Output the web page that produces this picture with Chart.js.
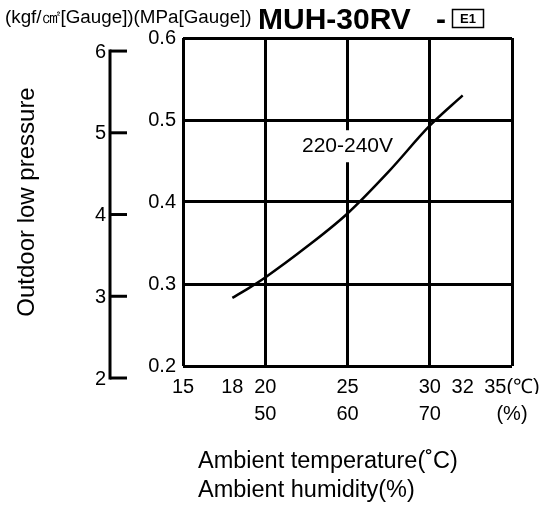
<!DOCTYPE html>
<html><head><meta charset="utf-8">
<script src="https://cdn.jsdelivr.net/npm/chart.js@4/dist/chart.umd.min.js"></script>
<style>html,body{margin:0;padding:0;background:#fff}canvas{display:block}</style>
</head><body>
<canvas id="c" width="544" height="506"></canvas>
<script>
// ---- data ----
const temperatureC = [18, 19, 20, 22.5, 25, 27.5, 30, 32];
const pressureMPa  = [0.283, 0.295, 0.308, 0.345, 0.386, 0.437, 0.493, 0.530];
const seriesLabel = '220-240V';
const seriesLabelAt = [25, 0.468];          // [°C, MPa] where the series label sits

const tempTicks = [15, 18, 20, 25, 30, 32, 35];
const tempTickLabels = ['15', '18', '20', '25', '30', '32', '35(℃)'];
const tempGridValues = [15, 20, 25, 30, 35];
const humidityTicks = [50, 60, 70, 80];
const humidityTickLabels = ['50', '60', '70', '(%)'];
const mpaTicks = [0.2, 0.3, 0.4, 0.5, 0.6];
const kgfTicks = [2, 3, 4, 5, 6];
// kgf/cm² scale as drawn beside the MPa scale
const kgfToMpaSlope = 0.09968;
const kgfToMpaOffset = -0.0140;
const kgfToMpa = k => kgfToMpaOffset + kgfToMpaSlope * k;

const headerUnits = '(kgf/㎠[Gauge])(MPa[Gauge])';
const headerModel = 'MUH-30RV';
const headerSuffix = 'E1';
const yTitle = 'Outdoor low pressure';
const xTitles = ['Ambient temperature(˚C)', 'Ambient humidity(%)'];

const FONT = '"Liberation Sans", Arial, Helvetica, sans-serif';
Chart.defaults.font.family = FONT;
Chart.defaults.color = '#000';

function labelGeom(chart) {
  const {ctx, scales: {x, y}} = chart;
  ctx.save();
  ctx.font = `21px ${FONT}`;
  const w = ctx.measureText(seriesLabel).width;
  ctx.restore();
  return {cx: x.getPixelForValue(seriesLabelAt[0]), cy: y.getPixelForValue(seriesLabelAt[1]), w};
}

const extras = {
  id: 'extras',
  beforeDatasetsDraw(chart) {
    const {ctx} = chart;
    const {cx, cy, w} = labelGeom(chart);
    ctx.save();
    ctx.fillStyle = '#fff';
    ctx.fillRect(cx - w / 2 - 3, cy - 16, w + 6, 32);
    ctx.restore();
  },
  afterDatasetsDraw(chart) {
    const {ctx} = chart;
    const {cx, cy} = labelGeom(chart);
    ctx.save();
    ctx.font = `21px ${FONT}`;
    ctx.fillStyle = '#000';
    ctx.textAlign = 'center';
    ctx.textBaseline = 'middle';
    ctx.fillText(seriesLabel, cx, cy);
    ctx.restore();
  },
  afterDraw(chart) {
    const {ctx, scales: {y}} = chart;
    ctx.save();
    ctx.fillStyle = '#000';
    ctx.strokeStyle = '#000';
    // secondary kgf/cm² axis
    const kx = 110;
    ctx.lineWidth = 3;
    const yTop = y.getPixelForValue(kgfToMpa(Math.max(...kgfTicks)));
    const yBot = y.getPixelForValue(kgfToMpa(Math.min(...kgfTicks)));
    ctx.beginPath();
    ctx.moveTo(kx, yTop - 1.5);
    ctx.lineTo(kx, yBot + 1.5);
    ctx.stroke();
    ctx.font = `20px ${FONT}`;
    ctx.textAlign = 'right';
    ctx.textBaseline = 'middle';
    kgfTicks.forEach(k => {
      const py = y.getPixelForValue(kgfToMpa(k));
      ctx.beginPath();
      ctx.moveTo(kx, py);
      ctx.lineTo(kx + 17, py);
      ctx.stroke();
      ctx.fillText(String(k), kx - 4, py + 1);
    });
    // header
    ctx.textAlign = 'left';
    ctx.textBaseline = 'alphabetic';
    ctx.font = `18.8px ${FONT}`;
    ctx.fillText(headerUnits, 5, 23);
    ctx.font = `bold 30px ${FONT}`;
    ctx.fillText(headerModel, 258, 29);
    ctx.fillText('-', 436, 29);
    ctx.lineWidth = 1.5;
    ctx.strokeRect(452.5, 9.5, 31, 18);
    ctx.font = `bold 13px ${FONT}`;
    ctx.textAlign = 'center';
    ctx.textBaseline = 'middle';
    ctx.fillText(headerSuffix, 468, 19.5);
    // y title
    ctx.save();
    ctx.translate(27, 202);
    ctx.rotate(-Math.PI / 2);
    ctx.font = `24px ${FONT}`;
    ctx.fillText(yTitle, 0, 0);
    ctx.restore();
    // x titles
    ctx.font = `23.5px ${FONT}`;
    ctx.textAlign = 'left';
    ctx.textBaseline = 'alphabetic';
    ctx.fillText(xTitles[0], 198, 468);
    ctx.fillText(xTitles[1], 198, 497);
    ctx.restore();
  }
};

new Chart(document.getElementById('c'), {
  type: 'line',
  data: {
    datasets: [{
      label: seriesLabel,
      data: temperatureC.map((t, i) => ({x: t, y: pressureMPa[i]})),
      borderColor: '#000',
      borderWidth: 2.5,
      pointRadius: 0,
      fill: false,
      cubicInterpolationMode: 'monotone'
    }]
  },
  options: {
    responsive: false,
    animation: false,
    events: [],
    layout: {padding: {left: 0, top: 38, right: 32, bottom: 0}},
    plugins: {legend: {display: false}, tooltip: {enabled: false}},
    scales: {
      x: {
        type: 'linear', position: 'bottom', min: 15, max: 35,
        afterBuildTicks: s => { s.ticks = tempTicks.map(v => ({value: v})); },
        afterFit: s => { s.height = 28; s.paddingLeft = 0; s.paddingRight = 0; },
        ticks: {
          autoSkip: false, maxRotation: 0, padding: 9,
          font: {size: 20},
          callback: v => tempTickLabels[tempTicks.indexOf(v)]
        },
        grid: {
          drawTicks: false, lineWidth: 3,
          color: c => (c.tick && tempGridValues.includes(c.tick.value)) ? '#000' : 'rgba(0,0,0,0)'
        },
        border: {display: false}
      },
      xh: {
        type: 'linear', position: 'bottom', min: 40, max: 80,
        afterBuildTicks: s => { s.ticks = humidityTicks.map(v => ({value: v})); },
        afterFit: s => { s.height = 112; s.paddingLeft = 0; s.paddingRight = 0; },
        ticks: {
          autoSkip: false, maxRotation: 0, padding: 8,
          font: {size: 20},
          callback: v => humidityTickLabels[humidityTicks.indexOf(v)]
        },
        grid: {display: false, drawTicks: false},
        border: {display: false}
      },
      y: {
        type: 'linear', position: 'left', min: 0.2, max: 0.6,
        afterBuildTicks: s => { s.ticks = mpaTicks.map(v => ({value: v})); },
        afterFit: s => { s.width = 183; s.paddingTop = 0; s.paddingBottom = 0; },
        ticks: {
          padding: 7, font: {size: 20},
          callback: v => v.toFixed(1)
        },
        grid: {drawTicks: false, lineWidth: 3, color: '#000'},
        border: {display: false}
      }
    }
  },
  plugins: [extras]
});
</script>
</body></html>
